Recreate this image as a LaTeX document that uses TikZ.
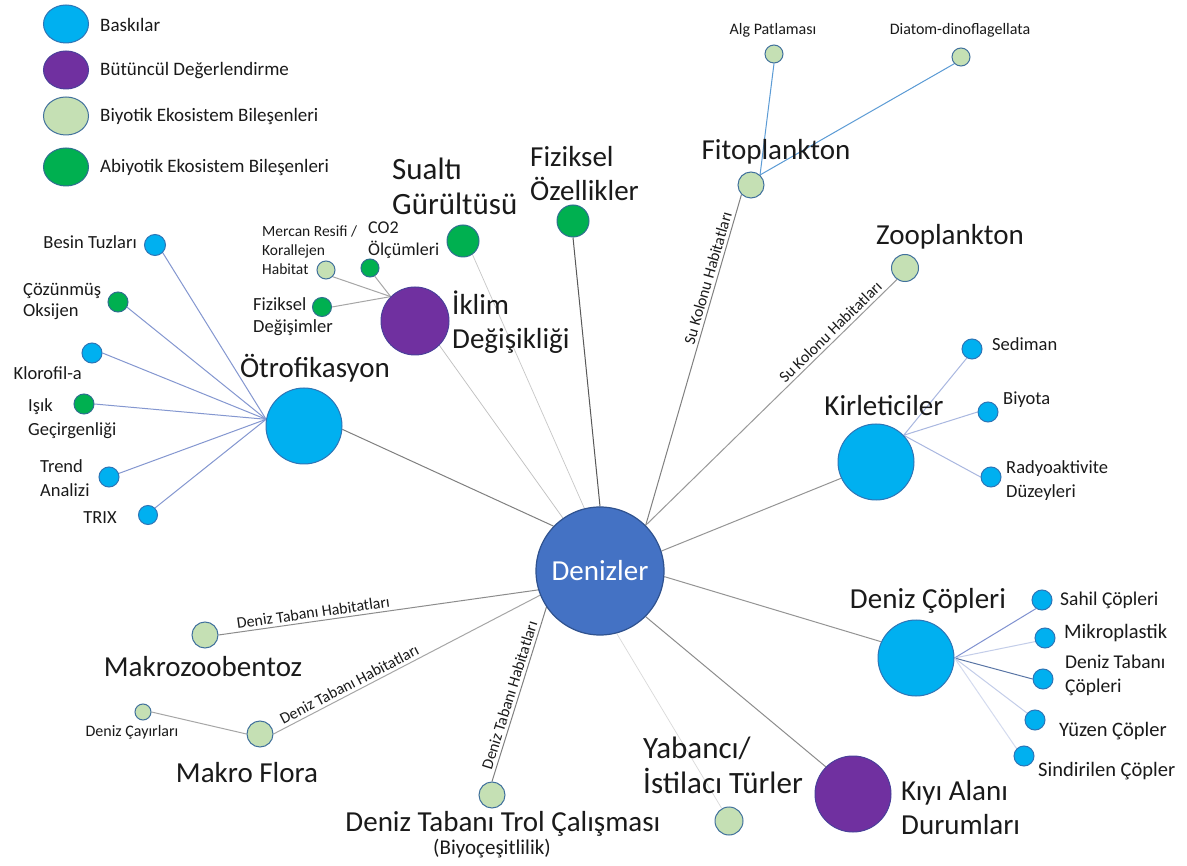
\documentclass[tikz,border=0pt]{standalone}
\usepackage{fontspec}
\setmainfont{Carlito}
\usetikzlibrary{shapes.geometric}
\pgfdeclarelayer{bg}
\pgfsetlayers{bg,main}
\definecolor{cBask}{HTML}{00B0F0}
\definecolor{cBaskB}{HTML}{2E75B6}
\definecolor{cPur}{HTML}{7030A0}
\definecolor{cPurB}{HTML}{4B3F9A}
\definecolor{cLg}{HTML}{C5E0B4}
\definecolor{cLgB}{HTML}{41719C}
\definecolor{cDg}{HTML}{00B050}
\definecolor{cDgB}{HTML}{2F6F8F}
\definecolor{cDen}{HTML}{4472C4}
\definecolor{cDenB}{HTML}{2F528F}
\definecolor{txt}{HTML}{1A1A1A}
\definecolor{eBlue}{HTML}{8497D0}
\definecolor{eFito}{HTML}{5B9BD5}
\definecolor{eKir}{HTML}{A9B7E0}
\definecolor{eSah}{HTML}{7F91D0}
\tikzset{
  dot/.style={circle, inner sep=0pt, line width=1pt},
  dia/.style={minimum size=#1},
  bask/.style={dot, fill=cBask, draw=cBaskB},
  pur/.style={dot, fill=cPur, draw=cPurB},
  bio/.style={dot, fill=cLg, draw=cLgB},
  abio/.style={dot, fill=cDg, draw=cDgB},
  legdot/.style={ellipse, inner sep=0pt, line width=1pt, minimum width=45, minimum height=38},
  bigl/.style={font=\fontsize{29}{34}\selectfont, text=txt, inner sep=0pt, align=left},
  bigger/.style={font=\fontsize{31}{35}\selectfont},
  midl/.style={font=\fontsize{18.5}{24}\selectfont, text=txt, inner sep=0pt, align=left},
  copl/.style={font=\fontsize{20.5}{24}\selectfont},
  smll/.style={font=\fontsize{16}{19}\selectfont, text=txt, inner sep=0pt, align=left},
  legl/.style={font=\fontsize{19}{22}\selectfont, text=txt, inner sep=0pt, anchor=west},
  elab/.style={font=\fontsize{16}{19}\selectfont, text=txt, inner sep=2pt, sloped, above=1pt},
  ln/.style={line width=1pt},
}
\begin{document}
\begin{tikzpicture}[x=1pt, y=-1pt]
\useasboundingbox (0,0) rectangle (1187,866);

% legend
\node[legdot, fill=cBask, draw=cBaskB] (lg1) at (66,24) {};
\node[legdot, fill=cPur, draw=cPurB] (lg2) at (66,70) {};
\node[legdot, fill=cLg, draw=cLgB] (lg3) at (66,116) {};
\node[legdot, fill=cDg, draw=cDgB] (lg4) at (66,167) {};
\node[legl] (lt1) at (100,25) {Baskılar};
\node[legl] (lt2) at (100,71) {Bütüncül Değerlendirme};
\node[legl] (lt3) at (100,117) {Biyotik Ekosistem Bileşenleri};
\node[legl] (lt4) at (100,168) {Abiyotik Ekosistem Bileşenleri};

% main nodes
\node[dot, fill=cDen, draw=cDenB, line width=1.2pt, dia=128, text=white, font=\fontsize{29}{34}\selectfont] (den) at (600,571) {Denizler};
\node[bask, dia=76] (otr) at (304,426) {};
\node[pur, dia=68] (ikl) at (415,321) {};
\node[abio, dia=32] (sua) at (463,241) {};
\node[abio, dia=32] (fizo) at (573,221) {};
\node[bio, dia=26] (fito) at (751,185) {};
\node[bio, dia=18] (alg) at (774,54) {};
\node[bio, dia=18] (diat) at (961,57) {};
\node[bio, dia=27] (zoo) at (905,268) {};
\node[bask, dia=76] (kir) at (876,462) {};
\node[bask, dia=20] (sed) at (972,349) {};
\node[bask, dia=20] (biy) at (988,412) {};
\node[bask, dia=20] (rad) at (991,477) {};
\node[bask, dia=76] (dcop) at (916,658) {};
\node[bask, dia=20] (sah) at (1042,600) {};
\node[bask, dia=20] (mik) at (1045,638) {};
\node[bask, dia=20] (dtc) at (1043,679) {};
\node[bask, dia=20] (yuz) at (1035,720) {};
\node[bask, dia=20] (sin) at (1024,756) {};
\node[pur, dia=76] (kiyi) at (853,794) {};
\node[bio, dia=28] (yab) at (729,821) {};
\node[bio, dia=26] (trol) at (492,795) {};
\node[bio, dia=26] (mzb) at (205,635) {};
\node[bio, dia=26] (mfl) at (260,734) {};
\node[bio, dia=16] (cay) at (143,712) {};
\node[bask, dia=21] (bes) at (155,245) {};
\node[abio, dia=20] (coz) at (118,302) {};
\node[bask, dia=20] (klo) at (92,353) {};
\node[abio, dia=20] (isik) at (84,404) {};
\node[bask, dia=20] (trd) at (109,477) {};
\node[bask, dia=19] (trix) at (148,515) {};
\node[bio, dia=18] (mer) at (326,270) {};
\node[abio, dia=18] (co2) at (370,268) {};
\node[abio, dia=19] (fizd) at (322,307) {};

% big labels
\node[bigl] (t-otr) at (315,368) {Ötrofikasyon};
\node[bigl, bigger, anchor=west] (t-sua) at (392,186) {Sualtı\\Gürültüsü};
\node[bigl, anchor=west] (t-fizo) at (530,174) {Fiziksel\\Özellikler};
\node[bigl] (t-fito) at (776,152) {Fitoplankton};
\node[bigl] (t-zoo) at (950,237) {Zooplankton};
\node[bigl, anchor=west] (t-ikl) at (452,322) {İklim\\Değişikliği};
\node[bigl] (t-kir) at (884,406) {Kirleticiler};
\node[bigl] (t-dcop) at (928,601) {Deniz Çöpleri};
\node[bigl, anchor=west] (t-kiyi) at (901,808) {Kıyı Alanı\\Durumları};
\node[bigl, bigger, anchor=west] (t-yab) at (643,765) {Yabancı/\\İstilacı Türler};
\node[bigl] (t-trol) at (503,824) {Deniz Tabanı Trol Çalışması};
\node[font=\fontsize{21}{24}\selectfont, text=txt, inner sep=0pt] (t-biyo) at (492,849) {(Biyoçeşitlilik)};
\node[bigl] (t-mzb) at (203,667) {Makrozoobentoz};
\node[bigl] (t-mfl) at (247,773) {Makro Flora};

% mid labels
\node[midl, anchor=east] (t-bes) at (137,242) {Besin Tuzları};
\node[midl, anchor=west, font=\fontsize{18.5}{21}\selectfont] (t-coz) at (23,301) {Çözünmüş\\Oksijen};
\node[midl, anchor=east] (t-klo) at (82,373) {Klorofil-a};
\node[midl, anchor=west] (t-isik) at (28,419) {Işık\\ Geçirgenliği};
\node[midl, anchor=west] (t-trd) at (40,478) {Trend\\Analizi};
\node[midl] (t-trix) at (100,518) {TRIX};
\node[midl, anchor=west] (t-sed) at (992,344) {Sediman};
\node[midl, anchor=west] (t-biy) at (1003,400) {Biyota};
\node[midl, anchor=west] (t-rad) at (1006,481) {Radyoaktivite\\Düzeyleri};
\node[midl, anchor=west, font=\fontsize{19.5}{24}\selectfont] (t-sah) at (1060,600) {Sahil Çöpleri};
\node[midl, copl, anchor=west] (t-mik) at (1064,633) {Mikroplastik};
\node[midl, anchor=west, font=\fontsize{19.5}{24}\selectfont] (t-dtc) at (1065,675) {Deniz Tabanı\\Çöpleri};
\node[midl, copl, anchor=west] (t-yuz) at (1059,731) {Yüzen Çöpler};
\node[midl, copl, anchor=west] (t-sin) at (1038,771) {Sindirilen Çöpler};
\node[midl, anchor=west, font=\fontsize{18}{22}\selectfont] (t-co2) at (368,240) {CO2\\Ölçümleri};
\node[midl, anchor=west, font=\fontsize{18.5}{22}\selectfont] (t-fizd) at (253,317) {Fiziksel\\Değişimler};

% small labels
\node[smll, anchor=west, font=\fontsize{15.5}{19}\selectfont] (t-mer) at (262,250) {Mercan Resifi /\\Korallejen\\Habitat};
\node[smll] (t-alg) at (773,30) {Alg Patlaması};
\node[smll] (t-diat) at (960,30) {Diatom-dinoflagellata};
\node[smll] (t-cay) at (132,732) {Deniz Çayırları};

\begin{pgfonlayer}{bg}
\fill[white] (0,0) rectangle (1187,866);
% Denizler edges
\draw[ln, color=black!50] (den.136) -- (otr.-5);
\draw[ln, line width=0.7pt, color=black!25] (den.125) -- (ikl.-45);
\draw[ln, line width=0.7pt, color=black!22] (den.104) -- (sua.-55);
\draw[ln, color=black!65] (den.90) -- (fizo.-90);
\draw[ln, color=black!50] (den.45) -- node[elab, pos=0.74] {Su Kolonu Habitatları} (fito.-135);
\draw[ln, color=black!40] (den.45) -- node[elab, pos=0.76] {Su Kolonu Habitatları} (zoo.-125);
\draw[ln, color=black!42] (den.18) -- (kir.205);
\draw[ln, color=black!42] (den.-5) -- (dcop.155);
\draw[ln, color=black!45] (den.-45) -- (kiyi.135);
\draw[ln, line width=0.7pt, color=black!15] (den.-75) -- (yab.120);
\draw[ln, color=black!50] (den.214) -- node[elab, pos=0.52] {Deniz Tabanı Habitatları} (trol.90);
\draw[ln, color=black!45] (den.197) -- node[elab, pos=0.70] {Deniz Tabanı Habitatları} (mzb.east);
\draw[ln, color=black!35] (den.202) -- node[elab, pos=0.70] {Deniz Tabanı Habitatları} (mfl.east);
% Otrofikasyon children
\draw[ln, color=eBlue] (otr.170) -- (bes.-45);
\draw[ln, color=eBlue] (otr.170) -- (coz.-30);
\draw[ln, color=eBlue] (otr.170) -- (klo.east);
\draw[ln, color=eBlue] (otr.170) -- (isik.east);
\draw[ln, color=eBlue] (otr.170) -- (trd.20);
\draw[ln, color=eBlue] (otr.170) -- (trix.45);
% Iklim children
\draw[ln, color=black!35] (ikl.135) -- (mer.-45);
\draw[ln, color=black!35] (ikl.135) -- (co2.-60);
\draw[ln, color=black!35] (ikl.135) -- (fizd.east);
% Fitoplankton children
\draw[ln, color=eFito] (fito.48) -- (alg.-90);
\draw[ln, color=eFito] (fito.48) -- (diat.-135);
% Kirleticiler children
\draw[ln, color=eKir] (kir.44) -- (sed.-120);
\draw[ln, color=eKir] (kir.44) -- (biy.west);
\draw[ln, color=eKir] (kir.44) -- (rad.west);
% Deniz Copleri children
\draw[ln, color=eSah] (dcop.east) -- (sah.-125);
\draw[ln, color=eKir!70] (dcop.east) -- (mik.200);
\draw[ln, color=cDenB!80] (dcop.east) -- (dtc.west);
\draw[ln, color=eKir!70] (dcop.east) -- (yuz.139);
\draw[ln, color=eKir!50] (dcop.east) -- (sin.135);
% Makro Flora child
\draw[ln, color=black!35] (mfl.west) -- (cay.east);
\end{pgfonlayer}
\end{tikzpicture}
\end{document}
